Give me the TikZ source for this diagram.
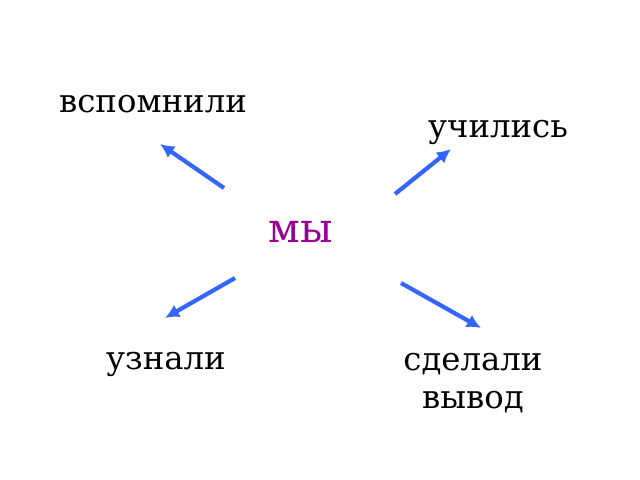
\documentclass[tikz,border=0pt]{standalone}
\usepackage{fontspec}
\setmainfont{DejaVu Serif}
\usetikzlibrary{positioning,arrows,arrows.meta}
\definecolor{arrblue}{RGB}{51,102,255}
\definecolor{wepurple}{RGB}{153,0,153}
\tikzset{word/.style={font=\fontsize{23}{27}\selectfont,inner sep=0pt},
	ray/.style={-{Latex[length=10pt,width=10pt]},line width=3pt,draw=arrblue},}

\begin{document}
\begin{tikzpicture}[x=0.025cm,y=-0.025cm]
	\useasboundingbox (0,0) rectangle (640,480);
	\node[word,text=wepurple,font=\fontsize{29}{33}\selectfont] (we) at (301,232) {мы};
	\node[word] (rem) at (153,104) {вспомнили};
	\node[word] (learn) at (498,132) {учились};
	\node[word] (found) at (166,364) {узнали};
	\node[word,align=center] (concl) at (473,383) {сделали\\вывод};
	
	\coordinate (a1) at (224,188);
	\coordinate (b1) at (160,144);
	\coordinate (a2) at (395,194);
	\coordinate (b2) at (451,149);
	\coordinate (a3) at (235,278);
	\coordinate (b3) at (165,318);
	\coordinate (a4) at (401,283);
	\coordinate (b4) at (481,328);
	
	\draw[ray] (a1) -- (b1);
	\draw[ray] (a2) -- (b2);
	\draw[ray] (a3) -- (b3);
	\draw[ray] (a4) -- (b4);
\end{tikzpicture}
\end{document}
